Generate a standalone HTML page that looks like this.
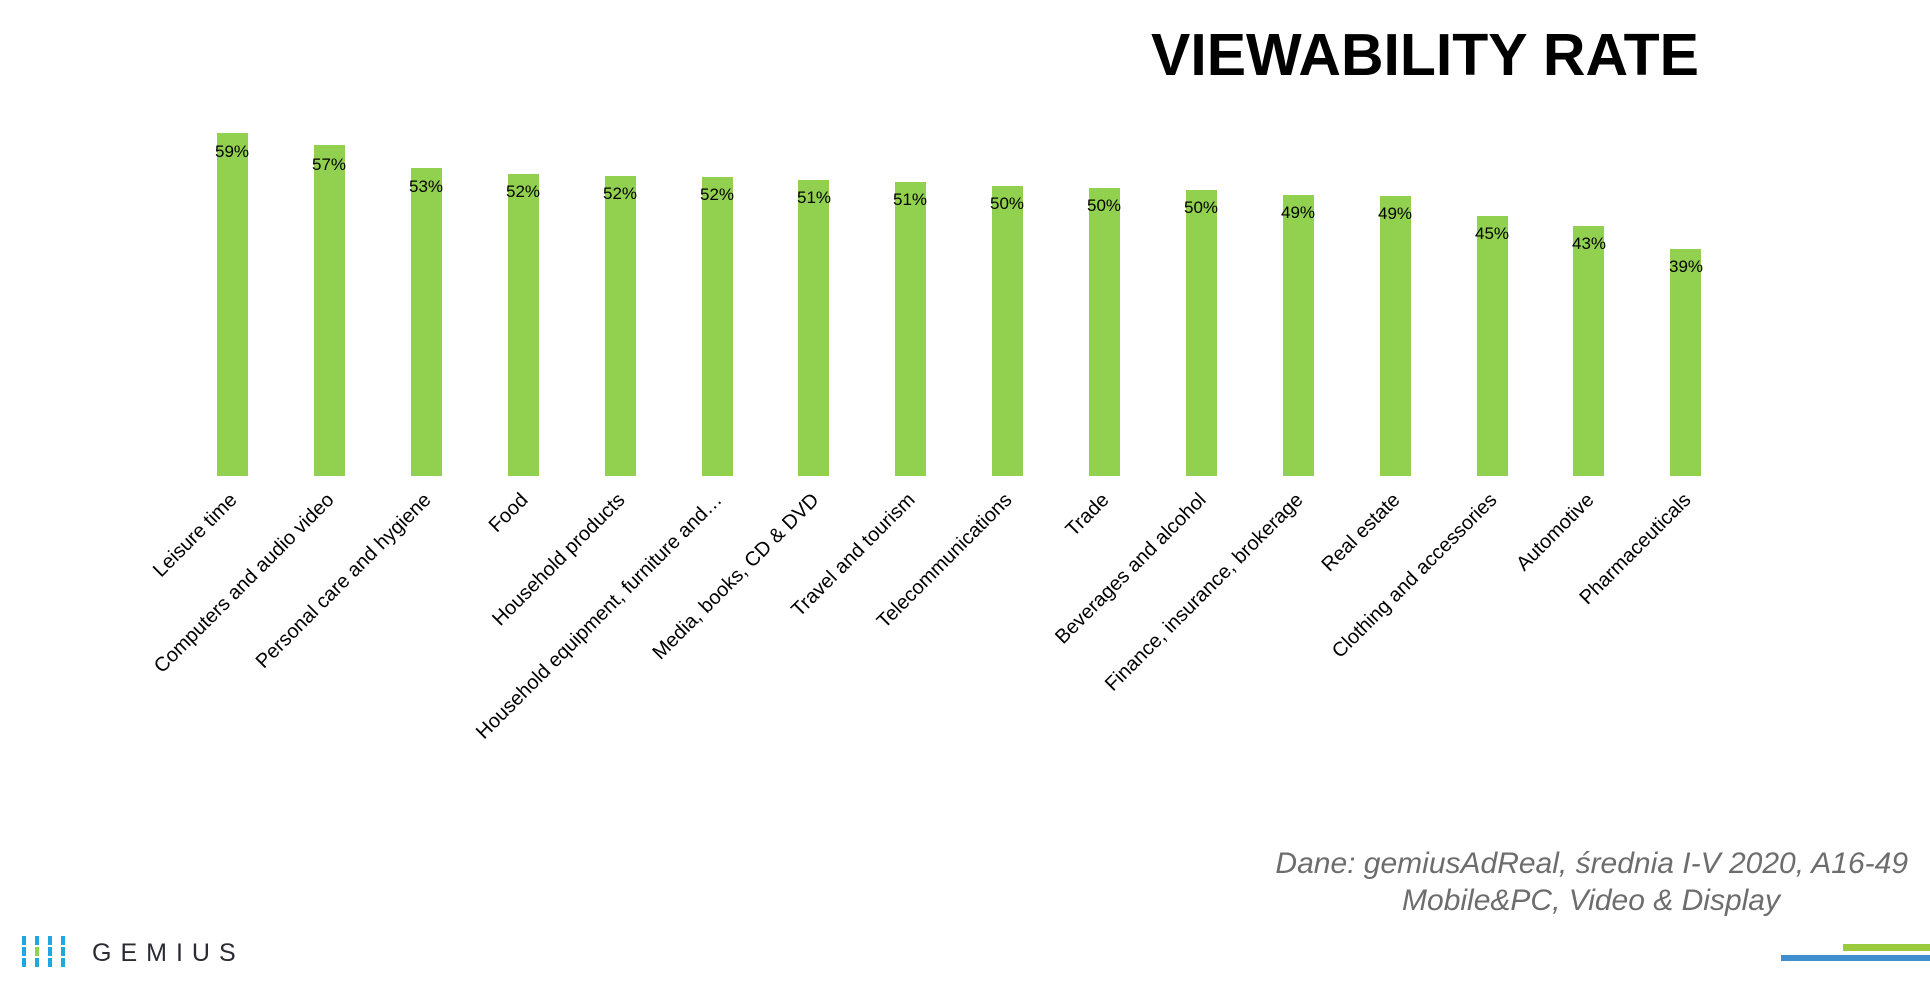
<!DOCTYPE html>
<html><head><meta charset="utf-8"><style>
html,body{margin:0;padding:0;background:#fff;}
svg{display:block;font-family:"Liberation Sans",Arial,sans-serif;}
</style></head><body>
<svg width="1930" height="992" viewBox="0 0 1930 992" xmlns="http://www.w3.org/2000/svg">
<rect width="1930" height="992" fill="#fff"/>
<text x="1151" y="75" font-size="59" font-weight="bold" fill="#000" textLength="548" lengthAdjust="spacingAndGlyphs">VIEWABILITY RATE</text>
<defs><clipPath id="c"><rect x="142" y="470" width="1800" height="300"/></clipPath></defs>
<g fill="#92d050">
<rect x="217" y="133" width="31" height="343"/>
<rect x="314" y="145" width="31" height="331"/>
<rect x="411" y="168" width="31" height="308"/>
<rect x="508" y="174" width="31" height="302"/>
<rect x="605" y="176" width="31" height="300"/>
<rect x="702" y="177" width="31" height="299"/>
<rect x="798" y="180" width="31" height="296"/>
<rect x="895" y="182" width="31" height="294"/>
<rect x="992" y="186" width="31" height="290"/>
<rect x="1089" y="188" width="31" height="288"/>
<rect x="1186" y="190" width="31" height="286"/>
<rect x="1283" y="195" width="31" height="281"/>
<rect x="1380" y="196" width="31" height="280"/>
<rect x="1477" y="216" width="31" height="260"/>
<rect x="1573" y="226" width="31" height="250"/>
<rect x="1670" y="249" width="31" height="227"/>
</g>
<g font-size="17" text-anchor="middle" fill="#000">
<text x="232" y="157">59%</text>
<text x="329" y="170">57%</text>
<text x="426" y="192">53%</text>
<text x="523" y="197">52%</text>
<text x="620" y="199">52%</text>
<text x="717" y="200">52%</text>
<text x="814" y="203">51%</text>
<text x="910" y="205">51%</text>
<text x="1007" y="209">50%</text>
<text x="1104" y="211">50%</text>
<text x="1201" y="213">50%</text>
<text x="1298" y="218">49%</text>
<text x="1395" y="219">49%</text>
<text x="1492" y="239">45%</text>
<text x="1589" y="249">43%</text>
<text x="1686" y="272">39%</text>
</g>
<g font-size="20" text-anchor="end" fill="#000" clip-path="url(#c)">
<text transform="translate(238,501) rotate(-45)">Leisure time</text>
<text transform="translate(335,501) rotate(-45)">Computers and audio video</text>
<text transform="translate(432,501) rotate(-45)">Personal care and hygiene</text>
<text transform="translate(529,501) rotate(-45)">Food</text>
<text transform="translate(626,501) rotate(-45)">Household products</text>
<text transform="translate(723,501) rotate(-45)">Household equipment, furniture and…</text>
<text transform="translate(820,501) rotate(-45)">Media, books, CD &amp; DVD</text>
<text transform="translate(916,501) rotate(-45)">Travel and tourism</text>
<text transform="translate(1013,501) rotate(-45)">Telecommunications</text>
<text transform="translate(1110,501) rotate(-45)">Trade</text>
<text transform="translate(1207,501) rotate(-45)">Beverages and alcohol</text>
<text transform="translate(1304,501) rotate(-45)">Finance, insurance, brokerage</text>
<text transform="translate(1401,501) rotate(-45)">Real estate</text>
<text transform="translate(1498,501) rotate(-45)">Clothing and accessories</text>
<text transform="translate(1595,501) rotate(-45)">Automotive</text>
<text transform="translate(1692,501) rotate(-45)">Pharmaceuticals</text>
</g>
<g font-size="30" font-style="italic" fill="#6d6d6d">
<text x="1908" y="873" text-anchor="end">Dane: gemiusAdReal, średnia I-V 2020, A16-49</text>
<text x="1591" y="910" text-anchor="middle">Mobile&amp;PC, Video &amp; Display</text>
</g>
<g fill="#1ea7e1">
<rect x="22" y="936" width="4" height="9"/><rect x="35" y="936" width="4" height="9"/><rect x="48" y="936" width="4" height="9"/><rect x="61" y="936" width="4" height="9"/>
<rect x="22" y="947" width="4" height="9"/><rect x="48" y="947" width="4" height="9"/><rect x="61" y="947" width="4" height="9"/>
<rect x="22" y="958" width="4" height="9"/><rect x="35" y="958" width="4" height="9"/><rect x="48" y="958" width="4" height="9"/><rect x="61" y="958" width="4" height="9"/>
</g>
<rect x="35" y="947" width="4" height="9" fill="#92d050"/>
<text x="92" y="961" font-size="25" fill="#2b2b33" letter-spacing="9">GEMIUS</text>
<rect x="1843" y="944" width="87" height="7" fill="#9bc93e"/>
<rect x="1781" y="955" width="149" height="6" fill="#3f8fcf"/>
</svg>
</body></html>
